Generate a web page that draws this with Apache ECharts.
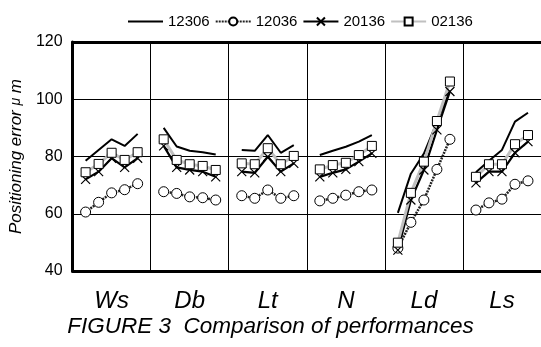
<!DOCTYPE html>
<html>
<head>
<meta charset="utf-8">
<script src="https://cdn.jsdelivr.net/npm/echarts@6/dist/echarts.min.js"></script>
<style>html,body{margin:0;padding:0;background:#fff}#c{width:541px;height:347px}</style>
</head>
<body>
<div id="c"></div>
<script>
const groups = ['Ws', 'Db', 'Lt', 'N', 'Ld', 'Ls'];
const seriesNames = ['12306', '12036', '20136', '02136'];
const yTicks = [40, 60, 80, 100, 120];
// five settings per group
const v12306 = [[78.5, 82.3, 86.0, 83.7, 87.9], [90.0, 83.5, 82.0, 81.5, 80.7], [82.3, 82.0, 87.5, 81.3, 84.0], [80.5, 82.0, 83.4, 85.2, 87.5], [60.3, 74.0, 81.0, 92.0, 103.0], [74.5, 78.5, 82.3, 92.2, 95.3]];
const v12036 = [[60.6, 64.0, 67.3, 68.4, 70.5], [67.7, 67.1, 65.9, 65.6, 64.8], [66.3, 65.4, 68.3, 65.4, 66.3], [64.5, 65.4, 66.5, 67.7, 68.3], [48.0, 57.0, 64.8, 75.5, 86.0], [61.3, 63.8, 65.1, 70.3, 71.5]];
const v20136 = [[72.0, 74.7, 79.4, 76.2, 79.4], [83.7, 76.2, 75.3, 74.7, 72.9], [74.7, 74.3, 79.9, 74.7, 77.6], [72.9, 74.3, 75.5, 78.2, 81.1], [47.3, 64.8, 75.3, 89.3, 102.7], [70.8, 74.7, 74.7, 81.3, 85.2]];
const v02136 = [[74.5, 77.4, 81.3, 78.8, 81.5], [86.0, 78.8, 77.3, 76.7, 75.3], [77.6, 77.3, 82.9, 77.3, 80.2], [75.5, 77.0, 77.8, 80.5, 83.7], [49.9, 67.3, 78.2, 92.4, 106.2], [72.9, 77.3, 77.3, 84.3, 87.5]];

const SLOTS = 6; // each group: 5 settings + 1 gap slot
function build(vals) {
  const out = [];
  vals.forEach((g, gi) => {
    g.forEach((v, j) => out.push([gi * SLOTS + j + 1, v]));
    out.push([gi * SLOTS + SLOTS, null]);
  });
  return out;
}
const FONT = 'Liberation Sans, Arial, sans-serif';
const chart = echarts.init(document.getElementById('c'), null, {renderer: 'canvas'});
const xPath = 'path://M0,0L10,10M10,0L0,10';
chart.setOption({
  animation: false,
  backgroundColor: '#fff',
  textStyle: {fontFamily: FONT, color: '#000'},
  title: {
    text: 'FIGURE 3  Comparison of performances',
    left: 'center', top: 310,
    textStyle: {fontFamily: FONT, fontSize: 22.5, fontStyle: 'italic', fontWeight: 'normal', color: '#000'}
  },
  legend: {
    top: 9, left: 122,
    itemWidth: 35, itemHeight: 10, itemGap: 5,
    textStyle: {fontFamily: FONT, fontSize: 15, color: '#000'},
    data: seriesNames
  },
  grid: {left: 72, top: 42, width: 471.6, height: 229, containLabel: false},
  xAxis: [
    {
      type: 'category', data: groups, boundaryGap: true, position: 'bottom',
      axisLine: {show: true, lineStyle: {color: '#000', width: 3}},
      axisTick: {show: false},
      axisLabel: {fontFamily: FONT, fontSize: 24, fontStyle: 'italic', color: '#000', margin: 18},
      splitLine: {show: true, interval: 0, lineStyle: {color: '#000', width: 1}}
    },
    {
      type: 'value', min: 0, max: groups.length * SLOTS, position: 'top',
      axisLine: {show: true, onZero: false, lineStyle: {color: '#000', width: 3}},
      axisTick: {show: false}, axisLabel: {show: false}, splitLine: {show: false}
    }
  ],
  yAxis: {
    type: 'value', min: yTicks[0], max: yTicks[yTicks.length - 1], interval: 20,
    axisLine: {show: true, lineStyle: {color: '#000', width: 3}},
    axisTick: {show: false},
    axisLabel: {fontFamily: FONT, fontSize: 16, color: '#000', margin: 10},
    splitLine: {show: true, lineStyle: {color: '#000', width: 1}},
    name: 'Positioning error {u|μ} m',
    nameLocation: 'middle', nameGap: 45, nameRotate: 90,
    nameTextStyle: {fontFamily: FONT, fontSize: 17, fontStyle: 'italic', color: '#000',
      rich: {u: {fontFamily: FONT, fontSize: 14, fontStyle: 'italic', color: '#000'}}}
  },
  series: [
    {
      name: '12306', type: 'line', xAxisIndex: 1, data: build(v12306),
      symbol: 'none', connectNulls: false,
      lineStyle: {color: '#000', width: 2}, itemStyle: {color: '#000', opacity: 0}
    },
    {
      name: '12036', type: 'line', xAxisIndex: 1, data: build(v12036),
      symbol: 'circle', symbolSize: 10, connectNulls: false,
      lineStyle: {color: '#222', width: 2.5, type: [2, 1]},
      itemStyle: {color: '#fff', borderColor: '#000', borderWidth: 1}
    },
    {
      name: '20136', type: 'line', xAxisIndex: 1, data: build(v20136),
      symbol: xPath, symbolSize: 9, connectNulls: false,
      lineStyle: {color: '#000', width: 2.2},
      itemStyle: {color: 'none', borderColor: '#000', borderWidth: 1.2}
    },
    {
      name: '02136', type: 'line', xAxisIndex: 1, data: build(v02136),
      symbol: 'rect', symbolSize: 9, connectNulls: false,
      lineStyle: {color: '#c0c0c0', width: 3},
      itemStyle: {color: '#fff', borderColor: '#000', borderWidth: 1}
    }
  ]
});
</script>
</body>
</html>
